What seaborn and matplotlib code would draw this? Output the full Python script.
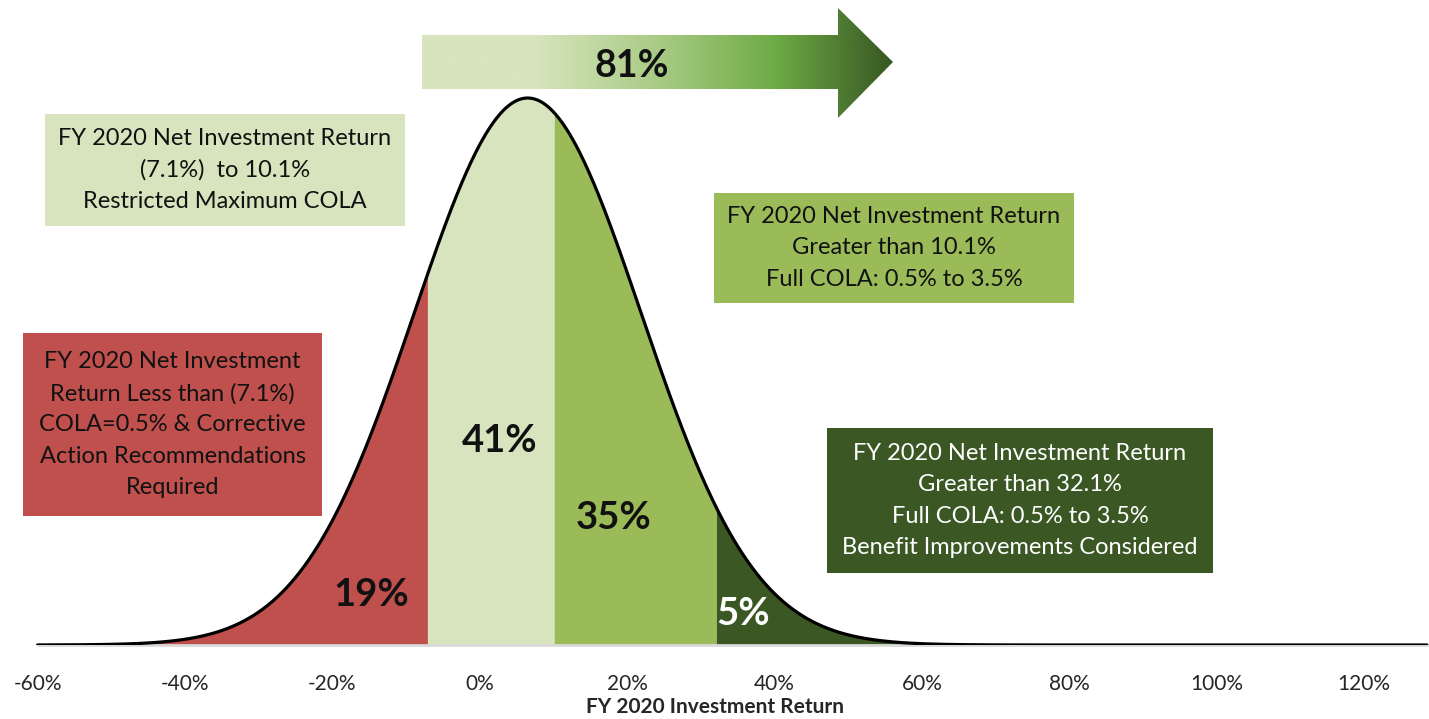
import numpy as np
import seaborn as sns
import matplotlib.pyplot as plt
from matplotlib.patches import Rectangle, Polygon
from matplotlib.colors import LinearSegmentedColormap

# distribution (peak near 6.5%, spread ~15.4%)
dist_mean = 6.5
dist_std = 15.4
thresholds = [-7.1, 10.1, 32.1]
region_pcts = ["19%", "41%", "35%", "5%"]
region_colors = ["#C0504D", "#D7E4BD", "#9BBB59", "#3A5724"]
total_above = "81%"
tick_values = [-60, -40, -20, 0, 20, 40, 60, 80, 100, 120]
tick_labels = [f"{v}%" for v in tick_values]
box_texts = [
    "FY 2020 Net Investment\nReturn Less than (7.1%)\nCOLA=0.5% & Corrective\nAction Recommendations\nRequired",
    "FY 2020 Net Investment Return\n(7.1%)  to 10.1%\nRestricted Maximum COLA",
    "FY 2020 Net Investment Return\nGreater than 10.1%\nFull COLA: 0.5% to 3.5%",
    "FY 2020 Net Investment Return\nGreater than 32.1%\nFull COLA: 0.5% to 3.5%\nBenefit Improvements Considered",
]
box_text_colors = ["#111111", "#111111", "#111111", "white"]

W, H = 1429, 719
sns.set_theme(style="white")
plt.rcParams['font.family'] = ['Lato', 'DejaVu Sans']

fig = plt.figure(figsize=(W / 100, H / 100), dpi=100)
ax = fig.add_axes([0, 74 / H, 1, 645 / H])


def fx(px):
    return px / W


def fy(py):
    return 1 - py / H


def pdf(x):
    return np.exp(-0.5 * ((x - dist_mean) / dist_std) ** 2) / (dist_std * np.sqrt(2 * np.pi))


xs = np.linspace(-60, 128.5, 1200)
ys = pdf(xs)
peak = pdf(dist_mean)

edges = [-60] + thresholds + [128.5]
for i in range(4):
    m = (xs >= edges[i]) & (xs <= edges[i + 1])
    seg_x = np.concatenate([[edges[i]], xs[m], [edges[i + 1]]])
    ax.fill_between(seg_x, pdf(seg_x), 0, color=region_colors[i], lw=0, zorder=1)

sns.lineplot(x=xs, y=ys, ax=ax, color="black", lw=2.3, zorder=3)

ax.set_xlim(-65.1, 128.8)
ax.set_ylim(0, peak * 645 / 547)
ax.set_xticks(tick_values)
ax.set_xticklabels(tick_labels, fontsize=15)
ax.set_yticks([])
ax.tick_params(axis="x", length=0, pad=21)
for s in ["left", "right", "top"]:
    ax.spines[s].set_visible(False)
ax.spines["bottom"].set_color("#d9d9d9")
ax.spines["bottom"].set_linewidth(2)
ax.spines["bottom"].set_bounds(-60, 128.5)
ax.set_xlabel("FY 2020 Investment Return", fontsize=15, fontweight="bold", labelpad=2)
ax.patch.set_alpha(0)

# percentage labels inside the regions
pct_pos = [(371, 595), (500, 441), (614, 518), (743, 614)]
pct_colors = ["#111111", "#111111", "#111111", "white"]
for lab, (px, py), c in zip(region_pcts, pct_pos, pct_colors):
    fig.text(fx(px), fy(py), lab, ha="center", va="center", fontsize=27.5,
             fontweight="bold", color=c)

# text boxes
box_rects = [(23, 333, 322, 516), (45, 114, 405, 226), (714, 193, 1074, 303), (827, 428, 1213, 573)]
box_fills = ["#C0504D", "#D7E4BD", "#9BBB59", "#3A5724"]
for txt, (x0, y0, x1, y1), fc, tc in zip(box_texts, box_rects, box_fills, box_text_colors):
    fig.patches.append(Rectangle((fx(x0), fy(y1)), fx(x1 - x0), (y1 - y0) / H,
                                 transform=fig.transFigure, facecolor=fc, edgecolor="none", zorder=4))
    fig.text(fx((x0 + x1) / 2), fy((y0 + y1) / 2), txt, ha="center", va="center",
             fontsize=17, color=tc, linespacing=1.6, zorder=5)

# gradient arrow at the top
ax_arr = fig.add_axes([fx(422), fy(118), fx(893 - 422), (118 - 8) / H])
ax_arr.set_xlim(0, 471)
ax_arr.set_ylim(110, 0)
ax_arr.axis("off")
cmap = LinearSegmentedColormap.from_list(
    "arrow", [(0, "#D7E4BD"), (0.24, "#D7E4BD"), (0.5, "#A9CB85"), (0.75, "#6EAB45"), (1, "#375623")])
grad = np.linspace(0, 1, 400)[None, :]
im = ax_arr.imshow(grad, cmap=cmap, aspect="auto", extent=(0, 471, 110, 0))
arrow = Polygon([(0, 27), (416, 27), (416, 0), (471, 54), (416, 110), (416, 81), (0, 81)],
                closed=True, facecolor="none", edgecolor="none", transform=ax_arr.transData)
ax_arr.add_patch(arrow)
im.set_clip_path(arrow)
fig.text(fx(632), fy(66), total_above, ha="center", va="center", fontsize=27,
         fontweight="bold", color="#111111")

fig.savefig("out.png", dpi=100)
